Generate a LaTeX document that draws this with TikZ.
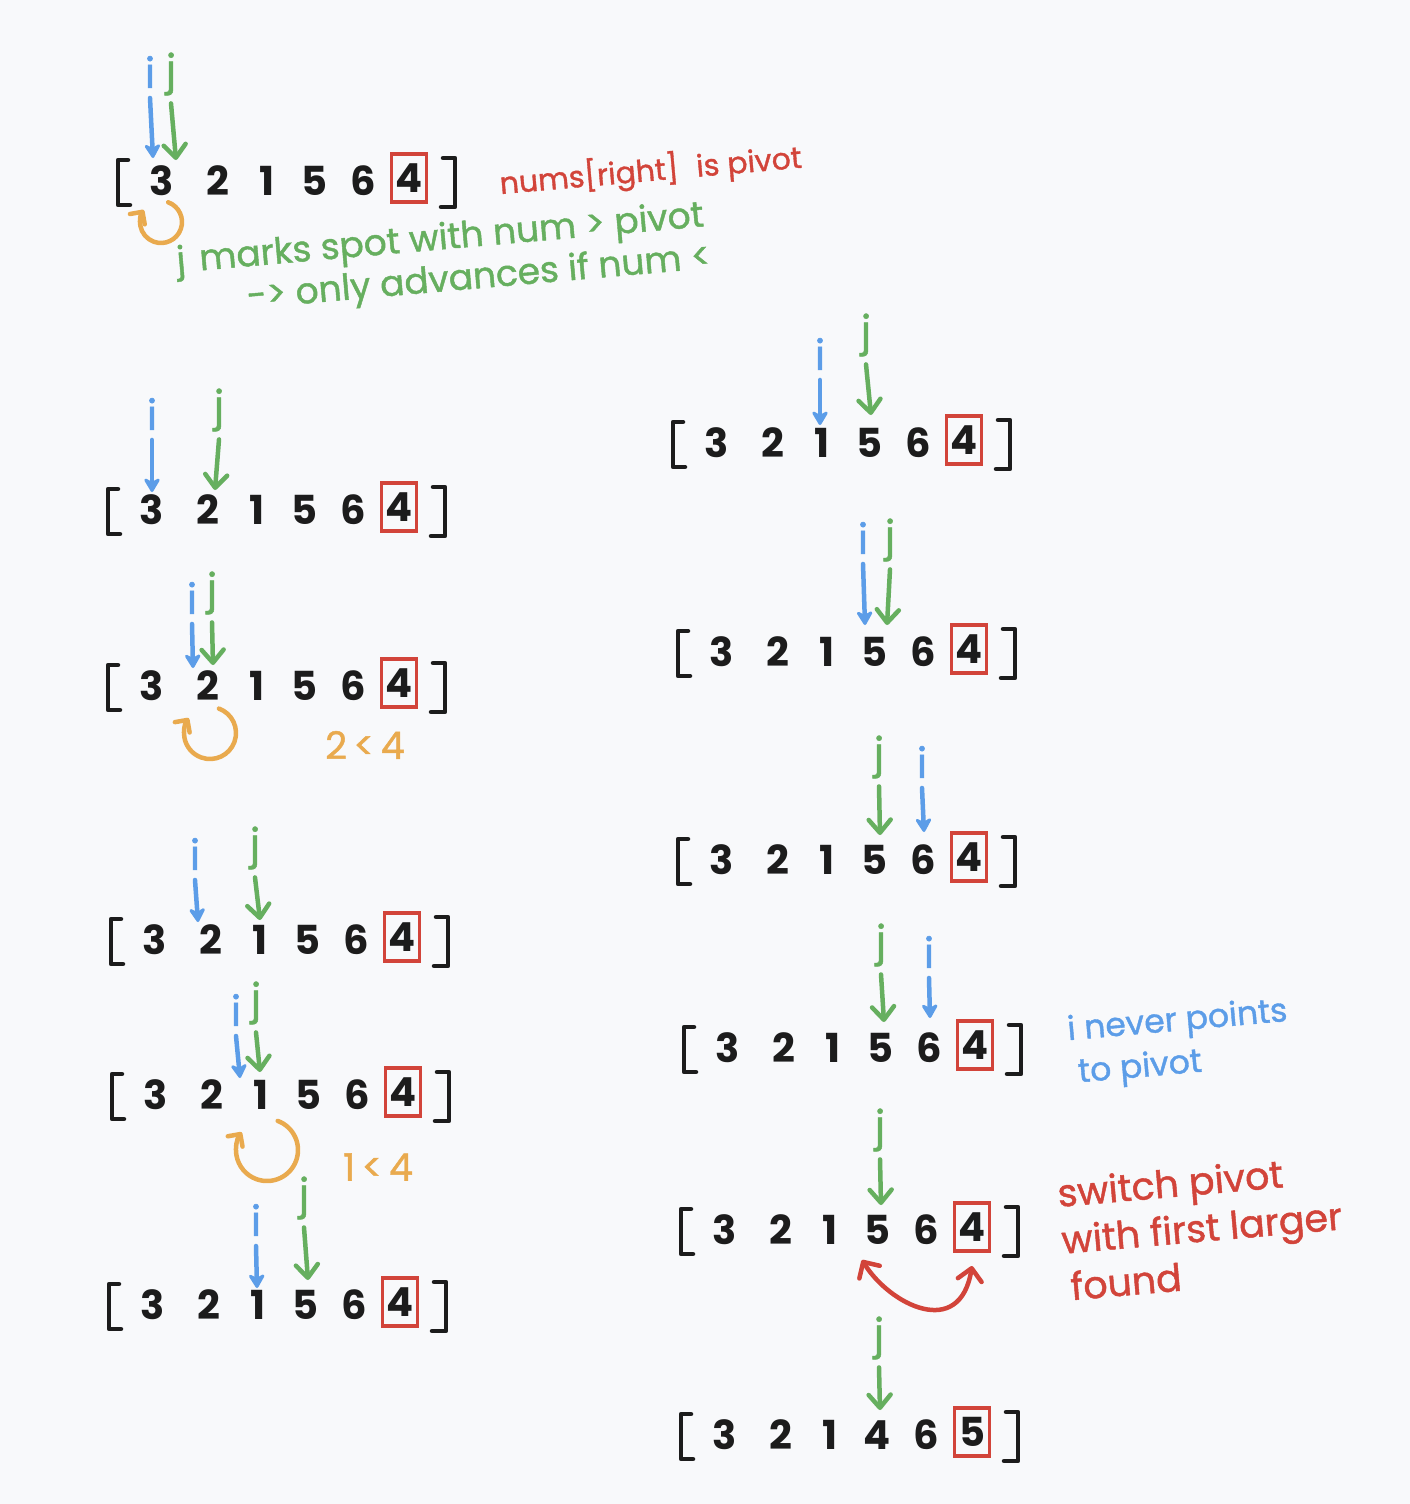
\documentclass[tikz,border=0pt]{standalone}
\usepackage{fontspec}
\setmainfont{Poppins}
\newfontfamily\handfont{Poppins}[FakeBold=1.2]
\usetikzlibrary{arrows.meta}
\definecolor{bg}{HTML}{F8F9FB}
\definecolor{cblue}{HTML}{5C9DE8}
\definecolor{cgreen}{HTML}{66AF5F}
\definecolor{cred}{HTML}{D2443A}
\definecolor{corange}{HTML}{E9AA4E}
\definecolor{cink}{HTML}{1C1C1C}
\newcommand\arrayrow[5]{%
 \node[dig] (#1a) at (#2,#3) {3};
 \node[dig] (#1b) at (#2+56,#3) {2};
 \node[dig] (#1c) at (#2+105,#3) {1};
 \node[dig] (#1d) at (#2+152,#3) {#4};
 \node[dig] (#1e) at (#2+201,#3) {6};
 \node[dig,pbox] (#1f) at (#2+247,#3-3) {#5};
 \draw[brk] (#2-34,#3-21) -- (#2-44,#3-21) -- (#2-44,#3+24) -- (#2-32,#3+24);
 \draw[brk] (#2+281,#3-23) -- (#2+293,#3-23) -- (#2+293,#3+26) -- (#2+279,#3+26);
}
\newcommand\iptr[5]{\node[lab,text=cblue] (#1) at (#2,#3) {i}; \coordinate (#1e) at (#4,#5); \draw[iarr] ([yshift=-10pt]#1.south) -- (#1e);}
\newcommand\jptr[5]{\node[lab,text=cgreen] (#1) at (#2,#3) {j}; \coordinate (#1e) at (#4,#5); \draw[jarr] ([yshift=-8pt]#1.south) -- (#1e);}
\newcommand\loopc[4]{\coordinate (#1) at (#2,#3);
 \draw[orng] ([shift={(-70:#4)}]#1) arc[start angle=-70, end angle=215, radius=#4];}
\begin{document}
\begin{tikzpicture}[x=1pt,y=-1pt,
 dig/.style={font=\fontsize{40}{40}\selectfont\bfseries, text=cink, inner sep=0pt},
 pbox/.style={draw=cred, line width=3.5pt, minimum width=35pt, minimum height=48pt, inner sep=0pt},
 brk/.style={draw=cink, line width=4.5pt, line cap=round, line join=round},
 lab/.style={font=\handfont\fontsize{42}{42}\selectfont, inner sep=0pt, outer sep=0pt},
 iarr/.style={cblue, line width=4.5pt, line cap=round, -{Stealth[length=17pt,width=20pt,round]}},
 jarr/.style={cgreen, line width=4.5pt, line cap=round, -{Straight Barb[length=13pt,width=22pt,round]}},
 orng/.style={corange, line width=4.5pt, line cap=round, -{Straight Barb[length=9pt,width=18pt,round]}},
 swp/.style={cred, line width=4.5pt, line cap=round, {Straight Barb[length=12pt,width=24pt,round]}-{Straight Barb[length=12pt,width=24pt,round]}},
 note/.style={inner sep=0pt, anchor=north west, align=left},
 ornote/.style={font=\handfont\fontsize{38}{38}\selectfont, text=corange, inner sep=0pt}
]
\fill[bg] (0,0) rectangle (1410,1504);
\useasboundingbox (0,0) rectangle (1410,1504);

% left column
\arrayrow{L0}{162}{181}{5}{4}
\arrayrow{L1}{152}{510}{5}{4}
\arrayrow{L2}{152}{686}{5}{4}
\arrayrow{L3}{155}{940}{5}{4}
\arrayrow{L4}{156}{1095}{5}{4}
\arrayrow{L5}{153}{1305}{5}{4}
% right column
\arrayrow{R0}{717}{443}{5}{4}
\arrayrow{R1}{722}{652}{5}{4}
\arrayrow{R2}{722}{860}{5}{4}
\arrayrow{R3}{728}{1048}{5}{4}
\arrayrow{R4}{725}{1230}{5}{4}
\arrayrow{R5}{725}{1435}{4}{5}

% pointers
\iptr{L0i}{150}{72}{153}{158}
\jptr{L0j}{171}{74}{176}{160}
\iptr{L1i}{152}{414}{152}{492}
\jptr{L1j}{219}{410}{215}{490}
\iptr{L2i}{192}{598}{193}{668}
\jptr{L2j}{212}{593}{213}{665}
\iptr{L3i}{195}{854}{198}{922}
\jptr{L3j}{255}{848}{260}{920}
\iptr{L4i}{236}{1010}{240}{1078}
\jptr{L4j}{256}{1003}{260}{1072}
\iptr{L5i}{256}{1220}{257}{1288}
\jptr{L5j}{304}{1198}{308}{1280}
\iptr{R0i}{820}{354}{820}{425}
\jptr{R0j}{866}{335}{871}{415}
\iptr{R1i}{863}{538}{865}{625}
\jptr{R1j}{890}{540}{887}{625}
\iptr{R2i}{922}{762}{924}{832}
\jptr{R2j}{879}{757}{880}{835}
\iptr{R3i}{929}{952}{930}{1018}
\jptr{R3j}{881}{945}{884}{1022}
\jptr{R4j}{880}{1130}{881}{1205}
\jptr{R5j}{879}{1338}{880}{1410}

% orange loops and comparisons
\loopc{o0}{161}{222}{21}
\loopc{o1}{210}{733}{26}
\loopc{o2}{267}{1150}{31}
\node[ornote] (c1) at (365,745) {2\,<\,4};
\node[ornote] (c2) at (378,1167) {1\,<\,4};

% swap arrow
\coordinate (sw1) at (862,1260);
\coordinate (sw2) at (972,1266);
\draw[swp] (sw1) .. controls (890,1305) and (960,1340) .. (sw2);

% annotations
\node[note,font=\handfont\fontsize{30}{34}\selectfont,text=cred,rotate=5] (t0) at (498,166) {nums[right]\hspace{18pt}is pivot};
\node[note,font=\handfont\fontsize{36}{42}\selectfont,text=cgreen,rotate=5] (t1) at (175,245) {j\hspace{14pt}marks spot with num > pivot\\\hspace*{67pt}-> only advances if num <};
\node[note,font=\handfont\fontsize{33}{43}\selectfont,text=cblue,rotate=5] (t3) at (1066,1015) {i never points\\\hspace*{7pt}to pivot};
\node[note,font=\handfont\fontsize{38}{47}\selectfont,text=cred,rotate=5] (t5) at (1056,1178) {switch pivot\\with first larger\\\hspace*{5pt}found};
\end{tikzpicture}
\end{document}
